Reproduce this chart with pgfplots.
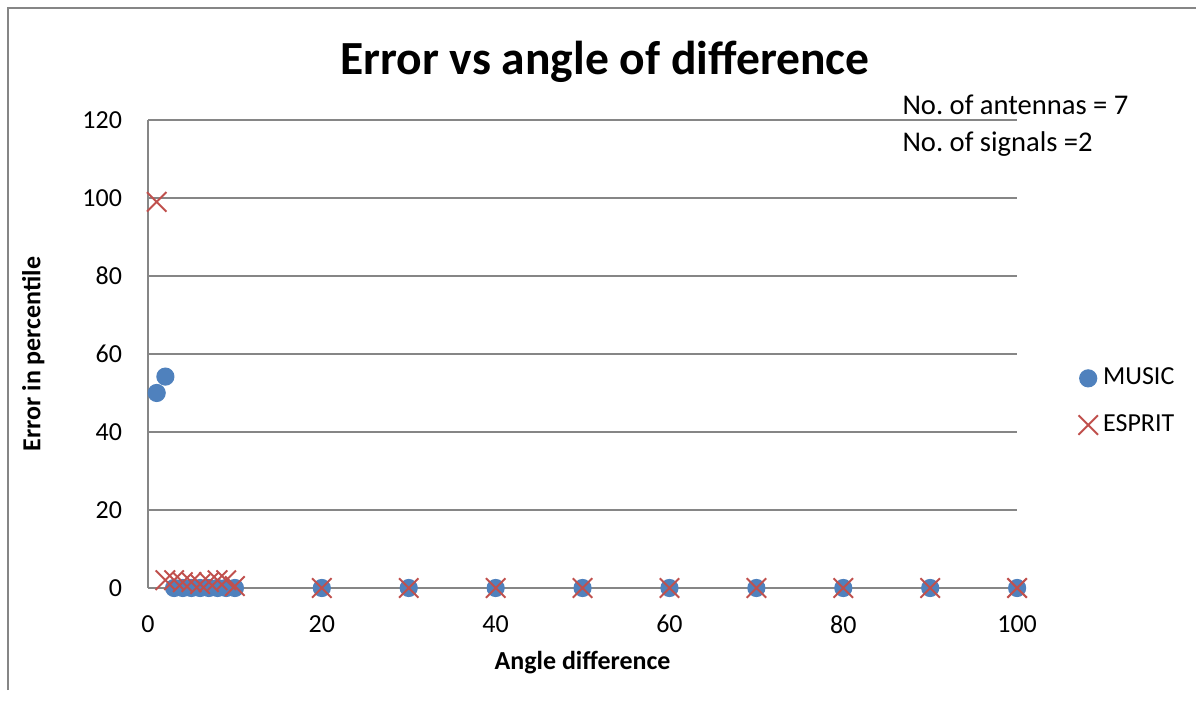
\documentclass[border=0pt]{standalone}
\usepackage{pgfplots}
\pgfplotsset{compat=1.18}
\usepackage{fontspec}
\setmainfont{Carlito}
\frenchspacing
\definecolor{musicblue}{HTML}{4F81BD}
\definecolor{espritred}{HTML}{C0504D}
\definecolor{axisgray}{HTML}{868686}
\begin{document}
\begin{tikzpicture}
\begin{scope}[x=0.385pt,y=0.385pt]
\path[use as bounding box] (0,0) rectangle (1196,706);
% outer chart frame (cropped)
\draw[axisgray,line width=0.8pt] (8,16) -- (8,698) -- (1196,698);
\node[font=\fontsize{18.3}{22}\selectfont\bfseries] at (605,644) {Error vs angle of difference};
\node[anchor=base west,inner sep=0pt,font=\fontsize{11}{13}\selectfont] at (902,591) {No. of antennas = 7};
\node[anchor=base west,inner sep=0pt,font=\fontsize{11}{13}\selectfont] at (902,554) {No. of signals =2};
\end{scope}
\begin{axis}[
  at={(56.98pt,45.43pt)}, anchor=south west,
  scale only axis, width=334.6pt, height=180.2pt,
  xmin=0, xmax=100, ymin=0, ymax=120,
  xtick={0,20,...,100}, ytick={0,20,...,120},
  axis x line=bottom, axis y line=left,
  axis line style={axisgray,line width=0.75pt,-},
  ymajorgrids, grid style={axisgray,line width=0.75pt},
  major tick length=0pt,
  /pgf/number format/assume math mode=true,
  tick label style={font=\fontsize{10}{12}\selectfont},
  yticklabel style={xshift=-6.5pt},
  xticklabel style={yshift=-7pt},
  xlabel={Angle difference},
  ylabel={Error in percentile},
  label style={font=\fontsize{10}{12}\selectfont\bfseries},
  x label style={at={(axis description cs:0.5,-0.16)},anchor=center},
  y label style={at={(axis description cs:-0.132,0.5)},anchor=center},
  legend style={at={(axis description cs:1.07,0.398)},anchor=west,draw=none,fill=none,
    font=\fontsize{10}{12}\selectfont,row sep=6pt,inner sep=0pt},
  legend cell align=left,
  clip=false,
]
\addplot[only marks,mark=*,mark size=3.3pt,color=musicblue,mark options={fill=musicblue,draw=musicblue}]
  coordinates {(1,50)(2,54.2)(3,0)(4,0)(5,0)(6,0)(7,0)(8,0)(9,0)(10,0)
    (20,0)(30,0)(40,0)(50,0)(60,0)(70,0)(80,0)(90,0)(100,0)};
\addlegendentry{MUSIC}
\addplot[only marks,mark=x,mark size=5.3pt,color=espritred,mark options={line width=0.75pt}]
  coordinates {(1,99)(2,2)(3,2)(4,1.5)(5,1.5)(6,1)(7,1.5)(8,2)(9,2)(10,0.5)
    (20,0)(30,0)(40,0)(50,0)(60,0)(70,0)(80,0)(90,0)(100,0)};
\addlegendentry{ESPRIT}
\end{axis}
\end{tikzpicture}
\end{document}
